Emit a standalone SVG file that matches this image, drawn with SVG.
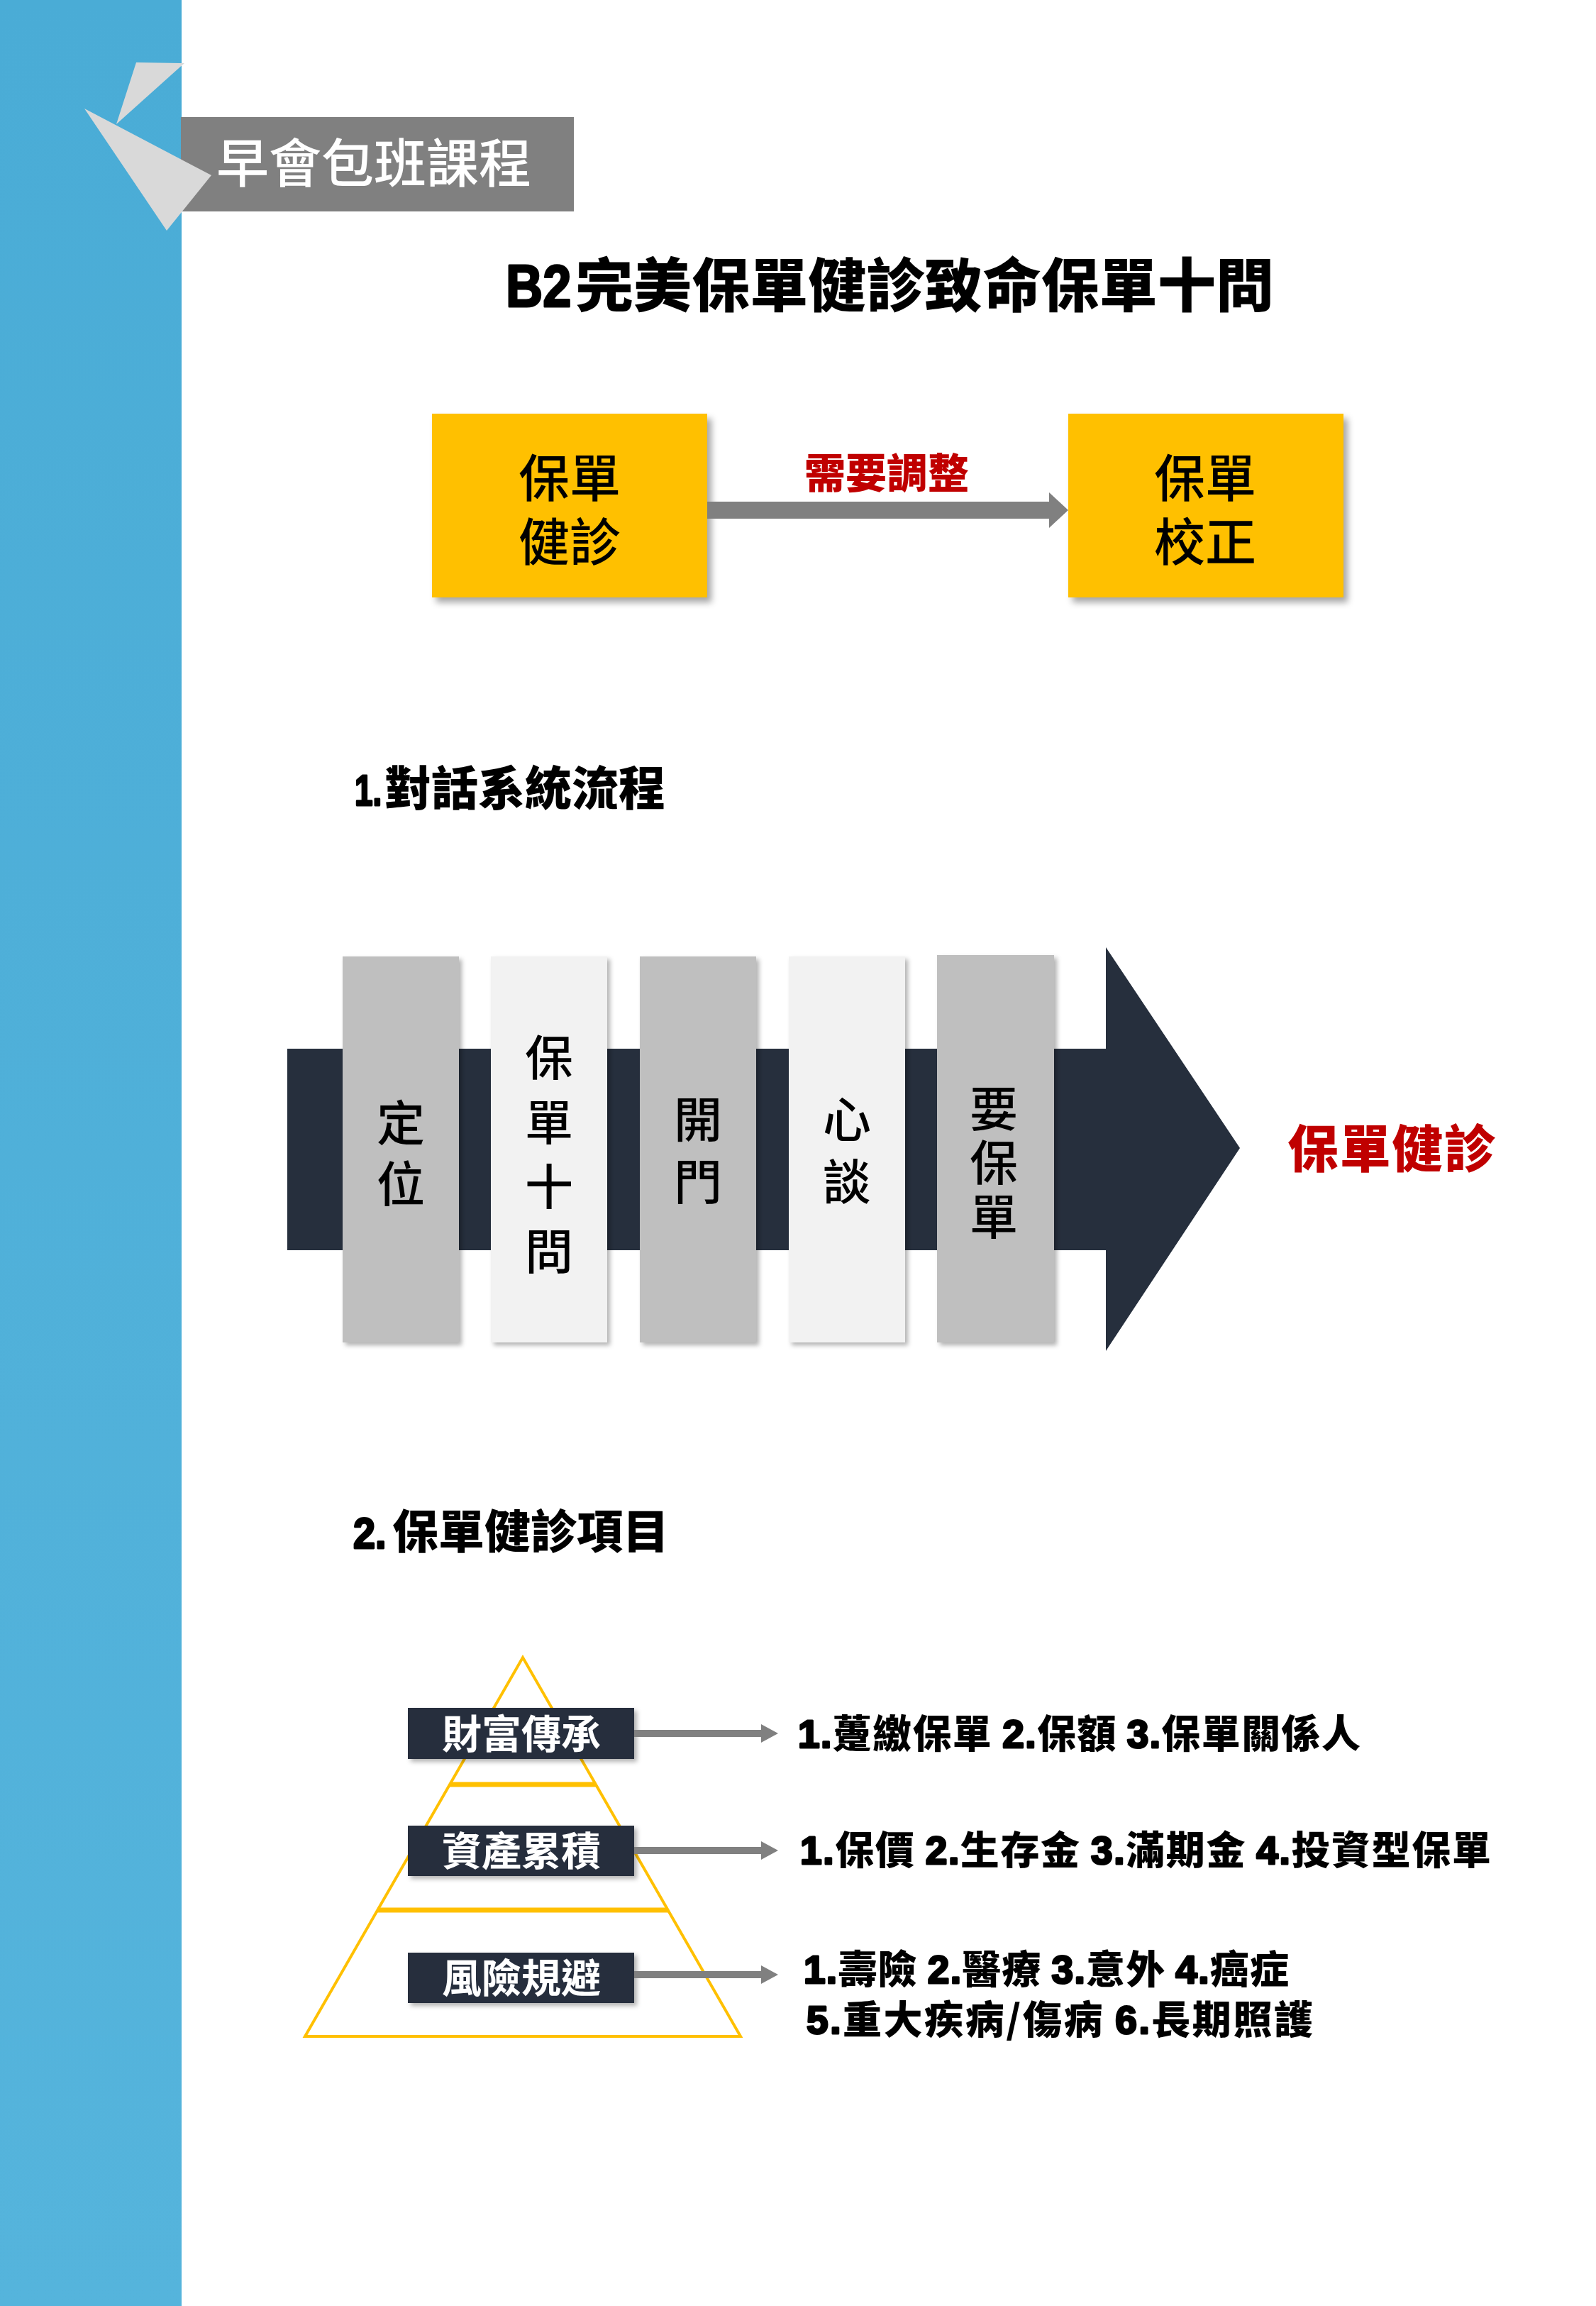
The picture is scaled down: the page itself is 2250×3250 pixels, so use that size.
<svg xmlns="http://www.w3.org/2000/svg" width="2250" height="3250" viewBox="0 0 2250 3250">
<style>
.cjk{font-family:"Noto Sans CJK TC","Noto Sans CJK SC",sans-serif}
.num{font-family:"Liberation Sans",Arial,sans-serif;font-weight:700;stroke:#000;stroke-width:3;stroke-linejoin:round}
.b{font-weight:700}
.h{font-weight:900}
.m{font-weight:500}
.red{fill:#c00000}
.wht{fill:#ffffff}
.blk{fill:#000000}
.yel{fill:#ffc000}
.bar-g{fill:#bfbfbf}
.bar-l{fill:#f2f2f2}
.navy{fill:#262f3d}
.conn{fill:#808080}
.pyr{fill:none;stroke:#ffc000;stroke-width:4}
.div{stroke:#ffc000;stroke-width:7}
.vt{writing-mode:vertical-rl;text-orientation:upright}
</style>
<defs>
<linearGradient id="blue" x1="0" y1="0" x2="0" y2="1">
<stop offset="0" stop-color="#4aacd6"/>
<stop offset="1" stop-color="#55b4dc"/>
</linearGradient>
<filter id="sh" x="-10%" y="-10%" width="130%" height="130%">
<feDropShadow dx="6" dy="7" stdDeviation="5" flood-color="#000" flood-opacity="0.35"/>
</filter>
<filter id="sh2" x="-10%" y="-10%" width="130%" height="130%">
<feDropShadow dx="4" dy="4" stdDeviation="3" flood-color="#000" flood-opacity="0.3"/>
</filter>
</defs>
<rect width="2250" height="3250" fill="#ffffff"/>
<rect x="0" y="0" width="256" height="3250" fill="url(#blue)"/>

<g id="header">
<polygon points="192,88 260,89 164,175" fill="#d9d9d9"/>
<rect x="255" y="165" width="554" height="133" fill="#808080"/>
<polygon points="119,153 298,247 235,325" fill="#d9d9d9"/>
<text x="305" y="257" class="cjk m wht" font-size="74">早會包班課程</text>
</g>

<g id="title">
<text transform="translate(713,432) scale(0.86,1)" x="0" y="0" class="num" font-size="84">B2</text>
<text x="811" y="432" class="cjk h blk" font-size="82" textLength="985">完美保單健診致命保單十問</text>
</g>

<g id="box-health">
<rect x="609" y="583" width="388" height="259" class="yel" filter="url(#sh)"/>
<text class="cjk m blk" font-size="72" text-anchor="middle"><tspan x="803" y="700">保單</tspan><tspan x="803" y="790">健診</tspan></text>
</g>

<g id="box-correct">
<rect x="1506" y="583" width="388" height="259" class="yel" filter="url(#sh)"/>
<text class="cjk m blk" font-size="72" text-anchor="middle"><tspan x="1699" y="700">保單</tspan><tspan x="1699" y="790">校正</tspan></text>
</g>

<g id="label-adjust">
<text x="1250" y="688" class="cjk h red" font-size="58" text-anchor="middle">需要調整</text>
</g>

<g id="heading1">
<text transform="translate(500,1135) scale(0.74,1)" x="0" y="0" class="num" font-size="62">1.</text>
<text x="542" y="1135" class="cjk h blk" font-size="66">對話系統流程</text>
</g>

<g id="flow-arrow">
<polygon points="405,1478 1559,1478 1559,1335 1748,1618 1559,1904 1559,1762 405,1762" class="navy"/>
</g>

<g id="bar1">
<rect x="483" y="1348" width="164" height="544" class="bar-g" filter="url(#sh2)"/>
<text x="565" y="1548" class="cjk m blk vt" font-size="68" letter-spacing="18">定位</text>
</g>
<g id="bar2">
<rect x="692" y="1348" width="164" height="544" class="bar-l" filter="url(#sh2)"/>
<text x="774" y="1456" class="cjk m blk vt" font-size="68" letter-spacing="23">保單十問</text>
</g>
<g id="bar3">
<rect x="902" y="1348" width="164" height="544" class="bar-g" filter="url(#sh2)"/>
<text x="984" y="1543" class="cjk m blk vt" font-size="68" letter-spacing="20">開門</text>
</g>
<g id="bar4">
<rect x="1112" y="1348" width="164" height="544" class="bar-l" filter="url(#sh2)"/>
<text x="1194" y="1543" class="cjk m blk vt" font-size="68" letter-spacing="20">心談</text>
</g>
<g id="bar5">
<rect x="1321" y="1346" width="165" height="546" class="bar-g" filter="url(#sh2)"/>
<text x="1401" y="1528" class="cjk m blk vt" font-size="68" letter-spacing="8">要保單</text>
</g>

<g id="result">
<text x="1815" y="1645" class="cjk h red" font-size="72" textLength="293">保單健診</text>
</g>

<g id="heading2">
<text transform="translate(498,2182) scale(0.9,1)" x="0" y="0" class="num" font-size="62">2.</text>
<text x="553" y="2182" class="cjk h blk" font-size="65">保單健診項目</text>
</g>

<g id="pyramid">
<polygon points="737,2336 1044,2870 430,2870" class="pyr"/>
<line x1="634" y1="2515" x2="840" y2="2515" class="div"/>
<line x1="532" y1="2692" x2="942" y2="2692" class="div"/>
</g>

<g id="label-wealth">
<rect x="575" y="2407" width="319" height="72" class="navy" filter="url(#sh2)"/>
<text x="735" y="2464" class="cjk b wht" font-size="56" text-anchor="middle">財富傳承</text>
</g>
<g id="label-asset">
<rect x="575" y="2573" width="319" height="71" class="navy" filter="url(#sh2)"/>
<text x="735" y="2629" class="cjk b wht" font-size="56" text-anchor="middle">資產累積</text>
</g>
<g id="label-risk">
<rect x="575" y="2752" width="319" height="71" class="navy" filter="url(#sh2)"/>
<text x="735" y="2808" class="cjk b wht" font-size="56" text-anchor="middle">風險規避</text>
</g>

<g id="row1">
<text x="1125" y="2463" font-size="55" textLength="793"><tspan class="num">1.</tspan><tspan class="cjk h">躉繳保單 </tspan><tspan class="num">2.</tspan><tspan class="cjk h">保額 </tspan><tspan class="num">3.</tspan><tspan class="cjk h">保單關係人</tspan></text>
</g>
<g id="row2">
<text x="1128" y="2627" font-size="55" textLength="974"><tspan class="num">1.</tspan><tspan class="cjk h">保價 </tspan><tspan class="num">2.</tspan><tspan class="cjk h">生存金 </tspan><tspan class="num">3.</tspan><tspan class="cjk h">滿期金 </tspan><tspan class="num">4.</tspan><tspan class="cjk h">投資型保單</tspan></text>
</g>
<g id="row3">
<text x="1133" y="2795" font-size="55" textLength="684"><tspan class="num">1.</tspan><tspan class="cjk h">壽險 </tspan><tspan class="num">2.</tspan><tspan class="cjk h">醫療 </tspan><tspan class="num">3.</tspan><tspan class="cjk h">意外 </tspan><tspan class="num">4.</tspan><tspan class="cjk h">癌症</tspan></text>
<text x="1137" y="2866" font-size="55" textLength="714"><tspan class="num">5.</tspan><tspan class="cjk h">重大疾病/傷病 </tspan><tspan class="num">6.</tspan><tspan class="cjk h">長期照護</tspan></text>
</g>

<g id="connectors">
<polygon points="997,707 1479,707 1479,694 1506,719 1479,744 1479,731 997,731" class="conn"/>
<polygon points="894,2438 1073,2438 1073,2430 1097,2443 1073,2456 1073,2448 894,2448" class="conn"/>
<polygon points="894,2603 1073,2603 1073,2595 1097,2608 1073,2621 1073,2613 894,2613" class="conn"/>
<polygon points="894,2778 1073,2778 1073,2770 1097,2783 1073,2796 1073,2788 894,2788" class="conn"/>
</g>
</svg>
